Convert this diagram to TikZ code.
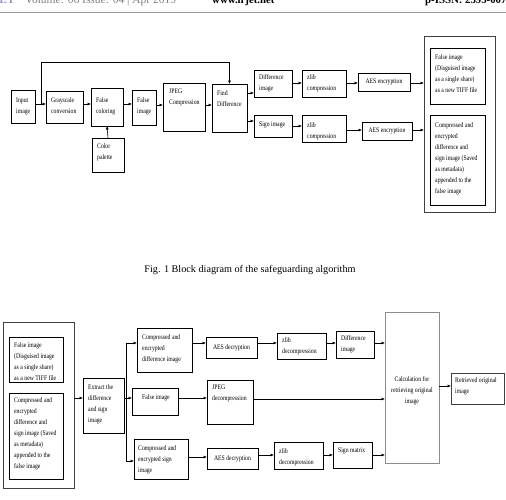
\documentclass[tikz,border=0pt]{standalone}
\usepackage{fontspec}
\setmainfont{Liberation Serif}
\newfontfamily\boxfont[FakeStretch=0.82]{Liberation Serif}
\usetikzlibrary{arrows.meta}
\newcommand\blk[6][]{\node[bx,#1,anchor=north west,minimum width=#4pt-#2pt,minimum height=#6pt-#3pt] (#5) at (#2,#3) {};}
\begin{document}
\begin{tikzpicture}[x=1pt,y=-1pt,
  bx/.style={draw,line width=0.75pt,inner sep=0pt,outer sep=0pt},
  tx/.style={font=\boxfont\fontsize{7}{11}\selectfont,align=left,inner sep=0pt,anchor=north west},
  ct/.style={font=\boxfont\fontsize{7}{11}\selectfont,align=center,inner sep=0pt},
  arr/.style={-{Latex[length=3.5pt,width=3pt]},line width=0.6pt},
  ln/.style={line width=0.6pt}]
\useasboundingbox (0,0) rectangle (506,499);
\clip (0,0) rectangle (506,499);
% header
\node[anchor=base east,inner sep=0pt,font=\fontsize{11.5}{13}\selectfont\bfseries,text=blue!35!gray!60] (hj) at (15,3.5) {IRJET};
\node[anchor=base west,inner sep=0pt,font=\fontsize{11.5}{13}\selectfont,text=black!50] (hv) at (25,3.5) {Volume: 06 Issue: 04 | Apr 2019};
\node[anchor=base west,inner sep=0pt,font=\fontsize{10.8}{13}\selectfont\bfseries] (hw) at (212,3.5) {www.irjet.net};
\node[anchor=base west,inner sep=0pt,font=\fontsize{10.8}{13}\selectfont\bfseries] (hp) at (425,3.5) {p-ISSN: 2395-0072};
\coordinate (hl1) at (0,12.3); \coordinate (hl2) at (506,12.3);
\draw[black!40,line width=0.8pt] (hl1) -- (hl2);
% ---------- top diagram ----------
\blk{11}{90}{35}{in}{123}   \node[tx] (tin) at (16,98) {Input\\image};
\blk{46}{91}{83}{gray}{123} \node[tx] (tgray) at (51,97) {Grayscale\\conversion};
\blk{91}{88}{123}{fc}{126}  \node[tx] (tfc) at (96,97) {False\\coloring};
\blk{92}{138}{124}{cp}{172} \node[tx] (tcp) at (97,143) {Color\\palette};
\blk{132}{90}{156}{fi}{125} \node[tx] (tfi) at (137,97) {False\\image};
\blk{163}{83}{205}{jp}{131} \node[tx] (tjp) at (169,89) {JPEG\\Compression};
\blk{212}{84}{247}{fd}{132} \node[tx] (tfd) at (217,90) {Find\\Difference};
\blk{254}{70}{292}{di}{97}  \node[tx] (tdi) at (259,74) {Difference\\image};
\blk{302}{70}{346}{zc1}{97} \node[tx] (tzc1) at (307,74) {zlib\\compression};
\blk{358}{73}{410}{ae1}{91} \node[ct] (tae1) at (ae1) {AES encryption};
\blk{254}{115}{292}{si}{137} \node[tx] (tsi) at (259,122) {Sign image};
\blk{302}{115}{346}{zc2}{142} \node[tx] (tzc2) at (307,122) {zlib\\compression};
\blk{362}{122}{412}{ae2}{140} \node[ct] (tae2) at (ae2) {AES encryption};
\blk[draw=black!75]{424}{36}{495}{ob1}{212}
\blk{430}{48}{485}{ib1}{104} \node[tx] (tib1) at (435,54) {False image\\(Disguised image\\as a single share)\\as a new TIFF file};
\blk{430}{115}{485}{ib2}{205} \node[tx] (tib2) at (435,122) {Compressed and\\encrypted\\difference and\\sign image (Saved\\as metadata)\\appended to the\\false image};
% arrows top
\coordinate (lp) at (41,104);
\coordinate (lpt) at (41,62);
\draw[arr] (in.east|-0,104) -- (gray.west|-0,104);
\draw[arr] (lp) -- (lpt) -| (fd.north);
\draw[arr] (gray.east|-0,104) -- (fc.west|-0,104);
\draw[arr] (fc.east|-0,104) -- (fi.west|-0,104);
\draw[arr] (cp.north) -- (fc.south);
\draw[arr] (fi.east|-0,105) -- (jp.west|-0,105);
\draw[arr] (jp.east|-0,105) -- (fd.west|-0,105);
\draw[arr] (fd.east|-0,93) -- (di.west|-0,93);
\draw[arr] (fd.east|-0,121) -- (si.west|-0,121);
\draw[arr] (di.east|-0,83) -- (zc1.west|-0,83);
\draw[arr] (zc1.east|-0,83) -- (ae1.west|-0,83);
\draw[arr] (ae1.east|-0,83) -- (ob1.west|-0,83);
\draw[arr] (si.east|-0,126) -- (zc2.west|-0,126);
\draw[arr] (zc2.east|-0,130) -- (ae2.west|-0,130);
\draw[arr] (ae2.east|-0,130) -- (ob1.west|-0,130);
% caption
\node[font=\fontsize{10.2}{12}\selectfont,inner sep=0pt] (cap) at (250,270) {Fig. 1 Block diagram of the safeguarding algorithm};
% ---------- bottom diagram ----------
\blk[draw=black!75]{3}{322}{74}{ob2}{488}
\blk{9}{337}{63}{bi1}{382} \node[tx] (tbi1) at (14,342) {False image\\(Disguised image\\as a single share)\\as a new TIFF file};
\blk{9}{393}{63}{bi2}{479} \node[tx] (tbi2) at (14,397) {Compressed and\\encrypted\\difference and\\sign image (Saved\\as metadata)\\appended to the\\false image};
\blk{83}{378}{124}{ex}{433} \node[tx] (tex) at (88,384) {Extract the\\difference\\and sign\\image};
\blk{137}{328}{192}{cd}{372} \node[tx] (tcd) at (142,334) {Compressed and\\encrypted\\difference image};
\blk{132}{388}{178}{fim}{415} \node[tx] (tfim) at (142,394) {False image};
\blk{134}{439}{188}{cs}{479} \node[tx] (tcs) at (138,445) {Compressed and\\encrypted sign\\image};
\blk{206}{337}{257}{ad1}{358} \node[ct] (tad1) at (ad1) {AES decryption};
\blk{207}{380}{253}{jd}{424} \node[tx] (tjd) at (212,385) {JPEG\\decompression};
\blk{207}{448}{258}{ad2}{469} \node[ct] (tad2) at (ad2) {AES decryption};
\blk{277}{333}{326}{zd1}{359} \node[tx] (tzd1) at (282,337) {zlib\\decompression};
\blk{336}{331}{374}{dim}{358} \node[tx] (tdim) at (341,335) {Difference\\image};
\blk[draw=black!45]{385}{312}{439}{calc}{463} \node[ct] (tcalc) at (412,391) {Calculation for\\retrieving original\\image};
\blk[draw=black!75]{451}{373}{504}{ret}{404} \node[tx] (tret) at (455,377) {Retrieved original\\image};
\blk{274}{442}{323}{zd2}{469} \node[tx] (tzd2) at (279,448) {zlib\\decompression};
\blk{333}{442}{372}{sm}{468} \node[tx] (tsm) at (338,448) {Sign matrix};
% arrows bottom
\coordinate (sp1) at (126,343);
\coordinate (sp2) at (126,398);
\coordinate (sp3) at (126,461);
\draw[arr] (ob2.east|-0,398) -- (ex.west|-0,398);
\draw[ln] (ex.east|-0,398) -- (sp2);
\draw[ln] (sp1) -- (sp3);
\draw[arr] (sp1) -- (cd.west|-0,343);
\draw[arr] (sp2) -- (fim.west|-0,398);
\draw[arr] (sp3) -- (cs.west|-0,461);
\draw[arr] (cd.east|-0,343) -- (ad1.west|-0,343);
\draw[arr] (ad1.east|-0,343) -- (zd1.west|-0,343);
\draw[arr] (zd1.east|-0,343) -- (dim.west|-0,343);
\draw[arr] (dim.east|-0,343) -- (calc.west|-0,343);
\draw[arr] (fim.east|-0,398) -- (jd.west|-0,398);
\draw[arr] (jd.east|-0,399) -- (calc.west|-0,399);
\draw[arr] (cs.east|-0,457) -- (ad2.west|-0,457);
\draw[arr] (ad2.east|-0,455) -- (zd2.west|-0,455);
\draw[arr] (zd2.east|-0,455) -- (sm.west|-0,455);
\draw[arr] (sm.east|-0,455) -- (calc.west|-0,455);
\draw[arr] (calc.east|-0,386) -- (ret.west|-0,386);
\end{tikzpicture}
\end{document}
